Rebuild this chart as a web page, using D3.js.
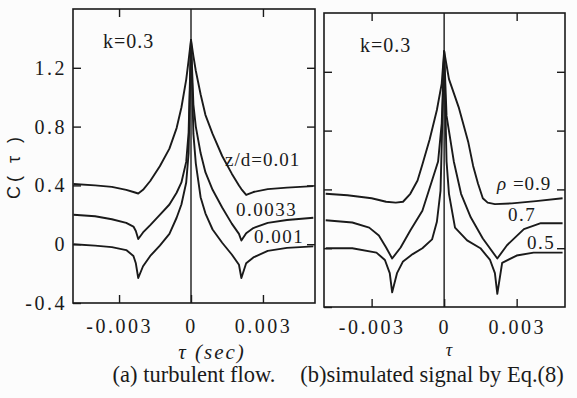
<!DOCTYPE html>
<html><head><meta charset="utf-8">
<script src="https://cdn.jsdelivr.net/npm/d3@7"></script>
<style>
body{margin:0;background:#fcfcfc}
svg{display:block}
text{font-family:"Liberation Serif","Times New Roman",serif;fill:#1a1a1a}
</style>
</head><body>
<svg id="c" width="577" height="398"></svg>
<script>
// ---------- data ----------
const yTickValues = [-0.4, 0, 0.4, 0.8, 1.2];
const yTickLabels = ["-0.4", "0", "0.4", "0.8", "1.2"];
const xTickValues = [-0.003, 0, 0.003];
const xTickLabels = ["-0.003", "0", "0.003"];

// (a) turbulent flow : shared tau grid
const tauA = [-0.0049, -0.004, -0.0033, -0.0027, -0.0024, -0.0023, -0.0022, -0.002, -0.0017, -0.0013,
              -0.0009, -0.0006, -0.0004, -0.0002, -0.0001, 0, 0.0001, 0.0002, 0.0004, 0.0006,
              0.0009, 0.0013, 0.0017, 0.002, 0.0021, 0.0023, 0.0026, 0.0032, 0.004, 0.0051];
const zd01   = [0.41, 0.40, 0.39, 0.37, 0.355, 0.35, 0.345, 0.37, 0.43, 0.53,
                0.65, 0.79, 0.93, 1.12, 1.25, 1.39, 1.28, 1.18, 1.02, 0.88,
                0.75, 0.60, 0.48, 0.40, 0.375, 0.335, 0.355, 0.375, 0.385, 0.395];
const zd0033 = [0.20, 0.19, 0.17, 0.145, 0.12, 0.09, 0.035, 0.08, 0.13, 0.20,
                0.27, 0.35, 0.42, 0.56, 0.76, 1.39, 0.95, 0.80, 0.62, 0.49,
                0.37, 0.25, 0.14, 0.07, 0.025, 0.075, 0.11, 0.145, 0.165, 0.18];
const zd001  = [0.0, -0.01, -0.02, -0.04, -0.08, -0.13, -0.23, -0.15, -0.08, -0.01,
                0.07, 0.18, 0.27, 0.42, 0.62, 1.39, 0.75, 0.55, 0.32, 0.21,
                0.10, 0.01, -0.07, -0.14, -0.23, -0.13, -0.09, -0.045, -0.025, -0.015];
const labelsA = ["z/d=0.01", "0.0033", "0.001"];

// (b) simulated signal
const tauB09 = [-0.0049, -0.004, -0.003, -0.0024, -0.002, -0.0017, -0.0014, -0.0011, -0.0009, -0.0006,
                -0.0003, -0.0001, 0, 0.0002, 0.0006, 0.001, 0.0012, 0.0014, 0.0016, 0.0018,
                0.0021, 0.0028, 0.0038, 0.0049];
const rho09  = [0.37, 0.36, 0.34, 0.316, 0.31, 0.316, 0.37, 0.46, 0.57, 0.74,
                0.94, 1.12, 1.34, 1.15, 0.96, 0.72, 0.56, 0.44, 0.34, 0.31,
                0.30, 0.305, 0.32, 0.34];
const tauB07 = [-0.0049, -0.0038, -0.0031, -0.0027, -0.0024, -0.00215, -0.0018, -0.0014, -0.0009, -0.0005,
                -0.00025, -0.0001, 0, 0.0001, 0.0004, 0.0007, 0.0011, 0.0016, 0.0022, 0.0026,
                0.0033, 0.004, 0.0049];
const rho07  = [0.19, 0.175, 0.14, 0.087, 0.005, -0.07, 0.005, 0.12, 0.255, 0.46,
                0.59, 0.85, 1.34, 0.90, 0.59, 0.37, 0.21, 0.066, -0.07, 0.02,
                0.13, 0.17, 0.17];
const tauB05 = [-0.0049, -0.0038, -0.0028, -0.00245, -0.00225, -0.00215, -0.00195, -0.0017, -0.0013, -0.0009,
                -0.0005, -0.0003, -0.00015, 0, 0.0001, 0.0002, 0.00045, 0.00095, 0.0015, 0.0019,
                0.0021, 0.0022, 0.0024, 0.003, 0.0037, 0.0049];
const rho05  = [0.0, 0.0, -0.03, -0.08, -0.17, -0.30, -0.17, -0.09, -0.04, 0.0,
                0.06, 0.18, 0.39, 1.34, 0.59, 0.37, 0.14, 0.053, 0.0, -0.08,
                -0.17, -0.31, -0.10, -0.05, -0.03, -0.03];
const labelsB = ["=0.9", "0.7", "0.5"];

// ---------- drawing ----------
const svg = d3.select("#c");
const ink = "#1a1a1a";
const SERIF = '"Liberation Serif","Times New Roman",serif';

function panel(cfg) {
  const x = d3.scaleLinear().domain(cfg.xd).range([cfg.l, cfg.r]);
  const y = d3.scaleLinear().domain([-0.4, 1.6]).range([cfg.b, cfg.t]);
  const g = svg.append("g");

  const tl = 8;
  const ax = [
    {a: d3.axisLeft(y).tickValues(yTickValues).tickSizeInner(-tl).tickSizeOuter(0), tr: `translate(${cfg.l},0)`, lab: cfg.yLabels},
    {a: d3.axisRight(y).tickValues(yTickValues.filter(v => v > -0.4)).tickSizeInner(-tl).tickSizeOuter(0), tr: `translate(${cfg.r},0)`, lab: false},
    {a: d3.axisBottom(x).tickValues(xTickValues).tickSizeInner(-tl).tickSizeOuter(0), tr: `translate(0,${cfg.b})`, lab: true},
    {a: d3.axisTop(x).tickValues(xTickValues.filter(v => v !== 0)).tickSizeInner(-tl).tickSizeOuter(0), tr: `translate(0,${cfg.t})`, lab: false}
  ];
  ax.forEach((d, i) => {
    if (i === 0) d.a.tickPadding(6).tickFormat((v) => yTickLabels[yTickValues.indexOf(v)]);
    else if (i === 2) d.a.tickPadding(cfg.xPad).tickFormat((v) => xTickLabels[xTickValues.indexOf(v)]);
    else d.a.tickFormat("");
    const gg = g.append("g").attr("transform", d.tr).call(d.a);
    gg.attr("font-family", null);
    gg.select(".domain").remove();
    gg.selectAll("line").attr("stroke", ink).attr("stroke-width", 1.4);
    gg.selectAll("text").attr("fill", ink).style("font-family", SERIF)
      .style("font-size", "20px").attr("letter-spacing", "2.5px");
    if (!d.lab) gg.selectAll("text").remove();
  });

  g.append("rect").attr("x", cfg.l).attr("y", cfg.t).attr("width", cfg.r - cfg.l).attr("height", cfg.b - cfg.t)
    .attr("fill", "none").attr("stroke", ink).attr("stroke-width", 1.6);
  g.append("line").attr("x1", x(0)).attr("x2", x(0)).attr("y1", cfg.t).attr("y2", cfg.b)
    .attr("stroke", ink).attr("stroke-width", 1.4);

  const line = d3.line().x(d => x(d[0])).y(d => y(d[1])).curve(d3.curveLinear);
  cfg.series.forEach(s => {
    g.append("path").datum(s.t.map((t, i) => [t, s.v[i]]))
      .attr("d", line).attr("fill", "none").attr("stroke", ink)
      .attr("stroke-width", 1.9).attr("stroke-linejoin", "round");
  });
  return {x, y, g};
}

panel({l: 73, r: 315, t: 9, b: 303, xd: [-0.00492, 0.00517], yLabels: true, xPad: 16,
  series: [{t: tauA, v: zd01}, {t: tauA, v: zd0033}, {t: tauA, v: zd001}]});
panel({l: 324, r: 565, t: 13, b: 307, xd: [-0.00497, 0.00500], yLabels: false, xPad: 13,
  series: [{t: tauB09, v: rho09}, {t: tauB07, v: rho07}, {t: tauB05, v: rho05}]});

function txt(x, yy, s, opt = {}) {
  const t = svg.append("text").attr("x", x).attr("y", yy).text(s)
    .style("font-family", opt.family || SERIF)
    .style("font-size", (opt.size || 20) + "px")
    .attr("text-anchor", opt.anchor || "start")
    .attr("letter-spacing", opt.ls || "0px");
  if (opt.italic) t.style("font-style", "italic");
  return t;
}

txt(103, 48, "k=0.3", {ls: "1px"});
txt(360, 52, "k=0.3", {ls: "1px"});
txt(225, 166, labelsA[0], {size: 19, ls: "1px"});
txt(236, 216, labelsA[1], {size: 19, ls: "1.5px"});
txt(254, 243, labelsA[2], {size: 19, ls: "1.5px"});
const r9 = txt(497, 190, "", {size: 19, ls: "1px"});
r9.append("tspan").style("font-style", "italic").text("ρ");
r9.append("tspan").text(" " + labelsB[0]);
txt(508, 221, labelsB[1], {size: 19, ls: "1.5px"});
txt(527, 249, labelsB[2], {size: 19, ls: "1.5px"});

svg.append("text").attr("transform", "translate(20,166) rotate(-90)").attr("text-anchor", "middle")
  .style("font-family", '"Liberation Sans",Arial,sans-serif').style("font-size", "18px")
  .attr("letter-spacing", "4px").text("C( τ )");
txt(212, 359, "τ (sec)", {italic: true, anchor: "middle", size: 21, ls: "2px"});
txt(449, 356, "τ", {italic: true, anchor: "middle", size: 18});

txt(194, 382, "(a) turbulent flow.", {size: 22.5, anchor: "middle"});
txt(432, 382, "(b)simulated signal by Eq.(8)", {size: 22.5, anchor: "middle"});
</script>
</body></html>
